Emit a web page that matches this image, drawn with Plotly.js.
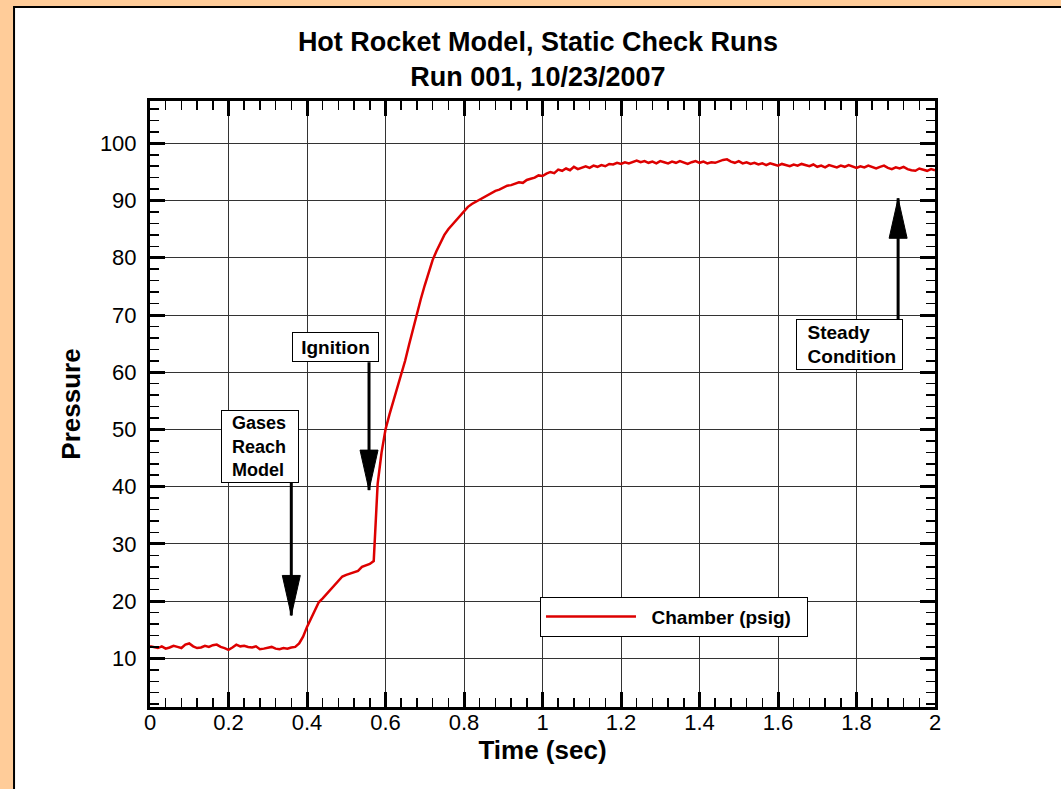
<!DOCTYPE html>
<html>
<head>
<meta charset="utf-8">
<script src="https://cdn.plot.ly/plotly-3.0.1.min.js"></script>
<style>html,body{margin:0;padding:0;background:#FFCC99;}#chart{width:1061px;height:789px;}</style>
</head>
<body>
<div id="chart"></div>
<script>
// Time (sec)
var time = [
0.00,0.01,0.02,0.03,0.04,0.05,0.06,0.07,0.08,0.09,
0.10,0.11,0.12,0.13,0.14,0.15,0.16,0.17,0.18,0.19,
0.20,0.21,0.22,0.23,0.24,0.25,0.26,0.27,0.28,0.29,
0.30,0.31,0.32,0.33,0.34,0.35,0.36,0.37,0.38,0.39,
0.40,0.41,0.42,0.43,0.44,0.45,0.46,0.47,0.48,0.49,
0.50,0.51,0.52,0.53,0.54,0.55,0.56,0.57,0.58,0.59,
0.60,0.61,0.62,0.63,0.64,0.65,0.66,0.67,0.68,0.69,
0.70,0.71,0.72,0.73,0.74,0.75,0.76,0.77,0.78,0.79,
0.80,0.81,0.82,0.83,0.84,0.85,0.86,0.87,0.88,0.89,
0.90,0.91,0.92,0.93,0.94,0.95,0.96,0.97,0.98,0.99,
1.00,1.01,1.02,1.03,1.04,1.05,1.06,1.07,1.08,1.09,
1.10,1.11,1.12,1.13,1.14,1.15,1.16,1.17,1.18,1.19,
1.20,1.21,1.22,1.23,1.24,1.25,1.26,1.27,1.28,1.29,
1.30,1.31,1.32,1.33,1.34,1.35,1.36,1.37,1.38,1.39,
1.40,1.41,1.42,1.43,1.44,1.45,1.46,1.47,1.48,1.49,
1.50,1.51,1.52,1.53,1.54,1.55,1.56,1.57,1.58,1.59,
1.60,1.61,1.62,1.63,1.64,1.65,1.66,1.67,1.68,1.69,
1.70,1.71,1.72,1.73,1.74,1.75,1.76,1.77,1.78,1.79,
1.80,1.81,1.82,1.83,1.84,1.85,1.86,1.87,1.88,1.89,
1.90,1.91,1.92,1.93,1.94,1.95,1.96,1.97,1.98,1.99,
2.00];

// Chamber pressure (psig)
var chamber = [
12.1,12.0,11.8,12.1,11.7,11.9,12.2,12.0,11.8,12.4,
12.6,12.1,11.8,11.9,12.2,12.0,12.3,12.4,12.0,11.8,
11.5,11.9,12.4,12.1,12.2,12.0,11.9,12.1,11.6,11.7,
11.9,12.0,11.7,11.6,11.8,11.7,11.9,12.0,12.6,13.8,
15.5,17.0,18.6,19.8,20.5,21.3,22.0,22.8,23.6,24.3,
24.6,24.8,25.1,25.3,26.0,26.2,26.5,27.0,40.5,46.0,
50.0,52.6,55.0,57.3,59.4,62.0,64.8,67.6,70.2,72.8,
75.2,77.4,79.6,81.2,82.6,84.0,85.0,85.8,86.5,87.4,
88.2,88.9,89.4,89.8,90.1,90.5,90.9,91.3,91.7,91.9,
92.2,92.6,92.7,93.0,93.2,93.1,93.6,93.8,94.0,94.4,
94.3,94.7,95.0,94.8,95.4,95.2,95.6,95.3,95.9,95.5,
95.7,96.0,95.7,96.1,95.9,96.2,96.0,96.4,96.3,96.6,
96.4,96.7,96.5,96.8,97.0,96.7,96.9,96.6,96.8,96.5,
96.9,96.7,96.5,96.8,96.6,96.9,96.7,96.4,96.7,96.9,
96.6,96.8,96.5,96.7,96.6,96.9,97.1,97.2,96.8,96.6,
96.9,96.5,96.7,96.4,96.6,96.3,96.5,96.2,96.5,96.3,
96.1,96.4,96.2,96.0,96.3,96.1,96.4,96.2,96.0,96.3,
95.9,96.1,95.8,96.2,96.0,95.8,96.1,95.9,96.2,96.0,
95.7,96.0,95.8,96.1,95.9,95.6,95.9,96.1,95.7,95.5,
95.8,95.6,95.9,95.5,95.3,95.2,95.6,95.4,95.2,95.5,
95.3];

var seriesName = "Chamber (psig)";
var titleLines = ["Hot Rocket Model, Static Check Runs", "Run 001, 10/23/2007"];
var xTickVals = [0, 0.2, 0.4, 0.6, 0.8, 1, 1.2, 1.4, 1.6, 1.8, 2];
var yTickVals = [10, 20, 30, 40, 50, 60, 70, 80, 90, 100];

// Callouts: label lines, label centre (x,y), arrow x, arrow tail y, arrow tip y
var calloutLines = [["Gases", "Reach", "Model"], ["Ignition"], ["Steady", "Condition"]];
var calloutX     = [0.280, 0.4726, 1.782];
var calloutY     = [46.98, 64.37, 64.8];
var calloutW     = [76, 85, 105];
var calloutH     = [71, 28, 49];
var calloutAlign = ["left", "center", "left"];
var arrowX       = [0.36, 0.558, 1.906];
var arrowTailY   = [40.8, 61.75, 69.3];
var arrowTipY    = [17.5, 39.4, 90.4];

var FONT = "Liberation Sans, Arial, Helvetica, sans-serif";
var NB = "\u00A0";

var shapes = [{
  type: "rect", xref: "paper", yref: "paper", layer: "below",
  x0: -0.1732, x1: 1.2, y0: -0.2, y1: 1.1552,
  fillcolor: "#FFFFFF", line: {color: "#000000", width: 2}
}];
var annotations = [];
for (var i = 0; i < calloutLines.length; i++) {
  var pad = calloutAlign[i] === "left" ? NB + NB : "";
  var txt = calloutLines[i].map(function (s) { return pad + s; }).join("<br>");
  annotations.push({
    xref: "x", yref: "y", x: calloutX[i], y: calloutY[i],
    text: "<b>" + txt + "</b>", showarrow: false,
    align: calloutAlign[i], width: calloutW[i], height: calloutH[i], valign: "middle",
    bgcolor: "#FFFFFF", bordercolor: "#000000", borderwidth: 1, borderpad: 0,
    font: {family: FONT, size: calloutLines[i].length > 2 ? 18 : 19, color: "#000000"}
  });
  var down = arrowTipY[i] < arrowTailY[i];
  shapes.push({
    type: "line", xref: "x", yref: "y",
    x0: arrowX[i], x1: arrowX[i], y0: arrowTailY[i], y1: arrowTipY[i],
    line: {color: "#000000", width: 3}
  });
  shapes.push({
    type: "path", xref: "x", yref: "y",
    xsizemode: "pixel", ysizemode: "pixel",
    xanchor: arrowX[i], yanchor: arrowTipY[i],
    path: down ? "M0,0 L-9,40 L9,40 Z" : "M0,0 L-9,-40 L9,-40 Z",
    fillcolor: "#000000", line: {color: "#000000", width: 1}
  });
}

var trace = {
  x: time, y: chamber, type: "scatter", mode: "lines",
  name: "<b>" + NB + NB + seriesName + NB + NB + "</b>",
  line: {color: "#DD0000", width: 2.5}
};

var axisCommon = {
  showline: true, linewidth: 3, linecolor: "#000000", mirror: "ticks",
  ticks: "inside", ticklen: 15, tickwidth: 3, tickcolor: "#000000",
  showgrid: true, gridcolor: "#333333", gridwidth: 1, zeroline: false,
  tickfont: {family: FONT, size: 22, color: "#000000"}
};

var layout = {
  width: 1061, height: 789,
  paper_bgcolor: "#FFCC99", plot_bgcolor: "#FFFFFF",
  margin: {l: 150, r: 126, t: 101, b: 82, pad: 0},
  title: {
    text: "<b>" + titleLines.join("<br>") + "</b>",
    font: {family: FONT, size: 27, color: "#000000"},
    xref: "container", x: 0.507, xanchor: "center",
    yref: "container", y: 1 - 51/789, yanchor: "middle"
  },
  xaxis: Object.assign({}, axisCommon, {
    range: [0, 2], tickmode: "array", tickvals: xTickVals,
    ticktext: xTickVals.map(String),
    ticklabelstandoff: -6,
    minor: {dtick: 0.04, tick0: 0, ticks: "inside", ticklen: 9, tickwidth: 1.5, tickcolor: "#000000", showgrid: false},
    title: {text: "<b>Time (sec)</b>", font: {family: FONT, size: 26, color: "#000000"}, standoff: 0}
  }),
  yaxis: Object.assign({}, axisCommon, {
    range: [1.5, 107.4], tickmode: "array", tickvals: yTickVals,
    ticktext: yTickVals.map(String),
    ticklabelstandoff: 6,
    minor: {dtick: 2, tick0: 0, ticks: "inside", ticklen: 9, tickwidth: 1.5, tickcolor: "#000000", showgrid: false},
    title: {text: "<b>Pressure</b>", font: {family: FONT, size: 26, color: "#000000"}, standoff: 12}
  }),
  showlegend: true,
  legend: {
    x: 0.4968, y: 0.182, xanchor: "left", yanchor: "top",
    bgcolor: "#FFFFFF", bordercolor: "#000000", borderwidth: 1,
    itemwidth: 90,
    font: {family: FONT, size: 19, color: "#000000"}
  },
  shapes: shapes,
  annotations: annotations
};

Plotly.newPlot("chart", [trace], layout, {displayModeBar: false, staticPlot: true});
</script>
</body>
</html>
